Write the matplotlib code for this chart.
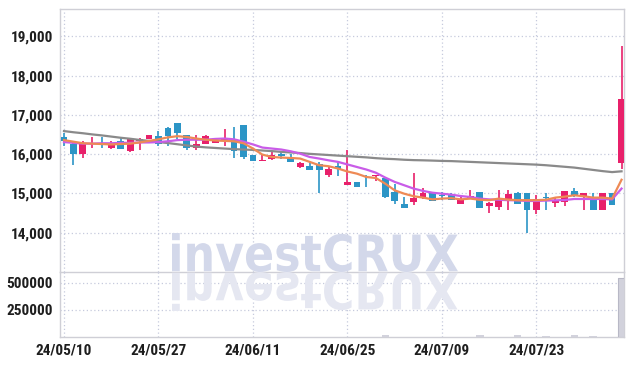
import matplotlib
matplotlib.use("Agg")
import matplotlib.pyplot as plt
from matplotlib.textpath import TextPath
from matplotlib.patches import PathPatch
from matplotlib.font_manager import FontProperties, findfont
from matplotlib.transforms import Affine2D, IdentityTransform

# daily candles (open, high, low, close)
dates = ["24/05/10", "24/05/27", "24/06/11", "24/06/25", "24/07/09", "24/07/23"]
opens = [16450, 16250, 16000, 16250, 16260, 16150, 16350, 16080, 16330, 16380,
         16460, 16660, 16790, 16500, 16150, 16250, 16280, 16330, 16360, 16740,
         15970, 15840, 15890, 16000, 15900, 15670, 15690, 15740, 15465, 15690,
         15210, 15285, 15200, 15440, 15390, 15050, 14740, 14780, 14895, 15020,
         14960, 14960, 14745, 14870, 15050, 14685, 14660, 14870, 15000, 15000,
         14590, 14900, 14765, 14785, 15060, 14925, 14885, 14590, 15010, 15780]
highs = [16530, 16300, 16330, 16450, 16450, 16330, 16450, 16400, 16420, 16500,
         16600, 16700, 16790, 16500, 16480, 16500, 16420, 16650, 16700, 16740,
         15970, 16000, 16050, 16050, 16000, 15800, 15800, 15800, 15680, 15830,
         16100, 15285, 15470, 15480, 15400, 15250, 14900, 15530, 15150, 15050,
         15050, 15000, 14920, 15080, 15050, 14790, 15100, 15080, 15040, 15000,
         14950, 15010, 14880, 15055, 15130, 15010, 15000, 15010, 15010, 18750]
lows = [16200, 15720, 15900, 16150, 16150, 16130, 16130, 16050, 16100, 16380,
        16200, 16200, 16400, 16100, 16100, 16250, 16280, 16200, 15900, 15880,
        15820, 15840, 15860, 15870, 15800, 15650, 15610, 15000, 15430, 15440,
        15210, 15165, 15170, 15320, 14895, 14720, 14630, 14700, 14850, 14810,
        14830, 14830, 14720, 14870, 14630, 14500, 14590, 14590, 14740, 14000,
        14480, 14590, 14660, 14680, 14920, 14590, 14590, 14590, 14715, 15630]
closes = [16330, 16000, 16250, 16280, 16240, 16280, 16130, 16400, 16400, 16480,
          16250, 16460, 16540, 16150, 16250, 16460, 16360, 16400, 16080, 15920,
          15820, 15860, 15990, 15960, 15810, 15780, 15610, 15610, 15635, 15620,
          15290, 15170, 15180, 15480, 14900, 14800, 14630, 14890, 15020, 14810,
          14940, 14830, 14870, 14930, 14630, 14770, 14870, 14995, 14740, 14590,
          14870, 14880, 14830, 15055, 14925, 15010, 14590, 15010, 14715, 17400]
volumes = [1500, 2000, 1500, 1000, 1000, 1500, 2000, 2000, 1000, 1500,
           2000, 2000, 2500, 1500, 1000, 1500, 1000, 2000, 2000, 2500,
           1500, 1000, 1000, 1500, 1000, 2000, 1500, 2500, 2000, 1500,
           2000, 1500, 1000, 1500, 16000, 2500, 2000, 2000, 1500, 2000,
           1500, 1000, 1500, 1000, 15000, 2000, 2000, 2000, 14000, 3000,
           2000, 13000, 1500, 2000, 14000, 2000, 13000, 2000, 2000, 545000]

ma_short = [16360, 16320, 16280, 16270, 16260, 16250, 16260, 16270, 16300, 16340,
            16380, 16430, 16460, 16440, 16400, 16370, 16350, 16340, 16330, 16280,
            16145, 15990, 15930, 15915, 15905, 15890, 15805, 15720, 15695, 15635,
            15560, 15505, 15420, 15395, 15250, 15080, 14995, 14930, 14895, 14850,
            14870, 14880, 14850, 14870, 14840, 14830, 14870, 14845, 14830, 14830,
            14830, 14840, 14895, 14920, 14955, 14930, 14895, 14895, 14870, 15350]
ma_mid = [16310, 16290, 16270, 16270, 16280, 16280, 16290, 16290, 16300, 16300,
          16310, 16330, 16360, 16370, 16370, 16370, 16390, 16400, 16380, 16320,
          16250, 16170, 16145, 16120, 16075, 16015, 15930, 15890, 15845, 15805,
          15740, 15675, 15610, 15530, 15405, 15295, 15210, 15125, 15065, 15020,
          14995, 14970, 14935, 14910, 14870, 14850, 14840, 14830, 14825, 14810,
          14810, 14820, 14825, 14835, 14860, 14860, 14860, 14860, 14850, 15125]
ma_long = [16590, 16560, 16535, 16505, 16480, 16450, 16420, 16395, 16365, 16340,
           16310, 16285, 16255, 16225, 16195, 16175, 16160, 16145, 16130, 16120,
           16110, 16095, 16080, 16060, 16045, 16030, 16010, 15995, 15980, 15965,
           15950, 15935, 15920, 15900, 15885, 15875, 15860, 15850, 15845, 15838,
           15830, 15825, 15815, 15805, 15795, 15785, 15775, 15765, 15755, 15745,
           15735, 15720, 15700, 15680, 15660, 15630, 15600, 15570, 15545, 15565]

UP = "#e8206a"
DOWN = "#2c95c6"
GRID = "#c6cadd"

# narrow label font if there is one, else Roboto
label_family = "Roboto"
for fam in ["Roboto Condensed", "Liberation Sans Narrow", "Open Sans Condensed"]:
    try:
        findfont(FontProperties(family=fam), fallback_to_default=False)
        label_family = fam
        break
    except Exception:
        pass
label_size = 11 if label_family != "Roboto" else 9.2

W, H = 634, 366
fig = plt.figure(figsize=(W / 100, H / 100), dpi=100)
fig.patch.set_facecolor("white")
ax = fig.add_axes([60 / W, 94 / H, 564 / W, 263 / H])
axv = fig.add_axes([60 / W, 29 / H, 564 / W, 65 / H], sharex=ax)
for a in (ax, axv):
    a.set_facecolor("none")

n = len(opens)
xs = list(range(n))

# watermark + its reflection under the price panel
prop = FontProperties(family="DejaVu Sans", weight="bold")
tp = TextPath((0, 0), "investCRUX", size=100, prop=prop)
ext = tp.get_extents()
sx = (458 - 172) / ext.width
sy = 39 / ext.height
wm = PathPatch(tp, transform=Affine2D().translate(-ext.x0, -ext.y0).scale(sx, sy).translate(172, 94)
               + IdentityTransform(), facecolor="#d3d8ea", edgecolor="none", zorder=0)
wm2 = PathPatch(tp, transform=Affine2D().translate(-ext.x0, -ext.y0).scale(sx, -sy).translate(172, 94)
                + IdentityTransform(), facecolor="#e5e7f1", edgecolor="none", zorder=0)
fig.patches.extend([wm, wm2])
wm.set_figure(fig)
wm2.set_figure(fig)
wm.set_clip_box(ax.bbox)
wm2.set_clip_box(axv.bbox)

# candles
for i in xs:
    c = UP if closes[i] >= opens[i] else DOWN
    ax.vlines(i, lows[i], highs[i], color=c, lw=1.2, zorder=3)
    lo = min(opens[i], closes[i])
    h = max(abs(closes[i] - opens[i]), 18)
    ax.bar(i, h, bottom=lo, width=0.72, color=c, zorder=4)

ax.plot(xs, ma_long, color="#8a8a8a", lw=1.6, zorder=5)
ax.plot(xs, ma_mid, color="#c95ce8", lw=1.6, zorder=5)
ax.plot(xs, ma_short, color="#ee8a55", lw=1.6, zorder=5)

axv.bar(xs, volumes, width=0.8, color="#d2d2dc", edgecolor="none", zorder=3)
axv.bar(xs[-1], volumes[-1], width=0.8, color="#d2d2dc", edgecolor="#b8b8c6", lw=0.8, zorder=3)

ax.set_xlim(-0.42, 59.26)
ax.set_ylim(13000, 19700)
axv.set_ylim(0, 600000)

ax.set_yticks([14000, 15000, 16000, 17000, 18000, 19000])
ax.set_yticklabels([f"{v:,}" for v in [14000, 15000, 16000, 17000, 18000, 19000]])
axv.set_yticks([250000, 500000])
axv.set_yticklabels(["250000", "500000"])
axv.set_xticks([0, 10, 20, 30, 40, 50])
axv.set_xticklabels(dates)
ax.tick_params(axis="x", labelbottom=False)

for a in (ax, axv):
    a.grid(True, linestyle=(0, (1, 2)), color=GRID, lw=0.9, zorder=1)
    a.tick_params(length=0, pad=5, labelcolor="#1e1e1e")
    for lab in a.get_yticklabels() + a.get_xticklabels():
        lab.set_fontfamily(label_family)
        lab.set_fontweight("bold")
        lab.set_fontsize(label_size)
    for s in a.spines.values():
        s.set_color("#cfcfd6")
        s.set_linewidth(1.0)
axv.spines["top"].set_visible(False)
axv.tick_params(axis="x", pad=5)

fig.savefig("out.png", dpi=100, facecolor="white")
